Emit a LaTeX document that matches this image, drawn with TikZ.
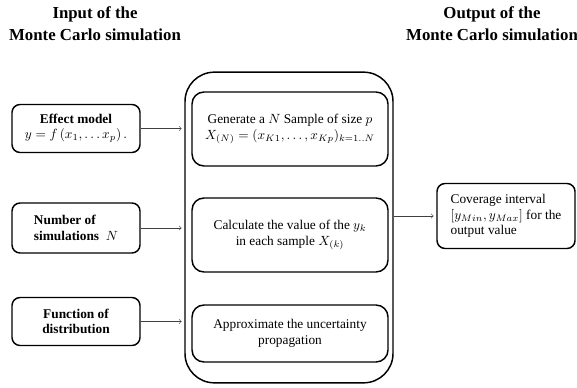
\documentclass[tikz,border=0pt]{standalone}
\usepackage{fontspec}
\setmainfont{Liberation Serif}
\begin{document}
\begin{tikzpicture}[x=0.75pt,y=-0.75pt,
  title/.style={align=center,font=\bfseries\fontsize{12.6}{16.5}\selectfont},
  inbox/.style={draw,line width=1.1pt,rounded corners=6pt,minimum width=96pt,minimum height=36pt,font=\bfseries\fontsize{10}{11.5}\selectfont},
  stepbox/.style={draw,line width=1.1pt,rounded corners=9pt,minimum width=147pt,align=center,font=\fontsize{10}{11.7}\selectfont},
  link/.style={->,draw=black!75,shorten >=2pt}]
  \useasboundingbox (0,0) rectangle (577,388);
  \node (tin) [title] at (95,24) {Input of the\\Monte Carlo simulation};
  \node (tout) [title] at (492,24) {Output of the\\Monte Carlo simulation};
  % inputs
  \node (model) [inbox,align=center] at (76,128.5) {Effect model\\ \mdseries $y = f\left(x_1, \dots x_p\right).$};
  \node (runs) [inbox,align=left,minimum height=37.5pt] at (76,228) {Number of\\simulations \ $N$};
  \node (distr) [inbox,align=center] at (76,321.5) {Function of\\distribution};
  % simulation
  \node (sim) [draw,line width=1.1pt,rounded corners=22pt,minimum width=156pt,minimum height=233pt] at (289,227.5) {};
  \node (gen) [stepbox,minimum height=55.5pt] at (290,129) {Generate a $N$ Sample of size $p$\\$X_{(N)} = (x_{K1},\dots,x_{Kp})_{k=1..N}$};
  \node (calc) [stepbox,minimum height=55.5pt] at (290,235) {Calculate the value of the $y_k$\\in each sample $X_{(k)}$};
  \node (approx) [stepbox,minimum height=42.75pt] at (290,333.5) {Approximate the uncertainty\\propagation};
  % output
  \node (cover) [draw,line width=1.1pt,rounded corners=6pt,minimum width=103.5pt,minimum height=48.75pt,align=left,font=\fontsize{10}{11.7}\selectfont] at (506,216) {Coverage interval\\$[y_{Min}, y_{Max}]$ for the\\output value};
  \draw[link] (model.east) -- (model.east -| sim.west);
  \draw[link] (runs.east) -- (runs.east -| sim.west);
  \draw[link] (distr.east) -- (distr.east -| sim.west);
  \draw[link] (sim.east |- cover.west) -- (cover.west);
\end{tikzpicture}
\end{document}
